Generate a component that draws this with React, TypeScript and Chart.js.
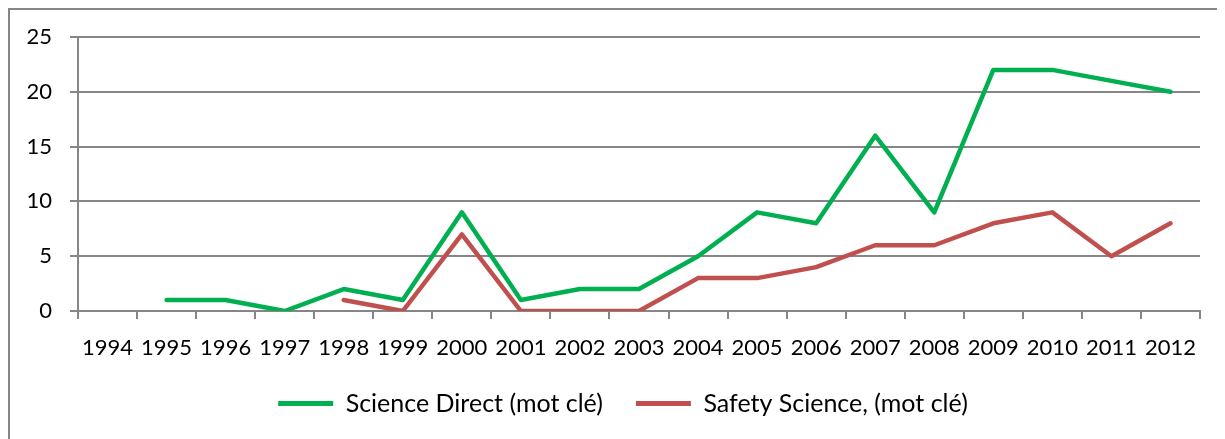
import React, { useEffect, useRef } from "react";
import { Chart, registerables } from "chart.js";

Chart.register(...registerables);

const years = ["1994","1995","1996","1997","1998","1999","2000","2001","2002","2003","2004","2005","2006","2007","2008","2009","2010","2011","2012"];
const scienceDirect = [null, 1, 1, 0, 2, 1, 9, 1, 2, 2, 5, 9, 8, 16, 9, 22, 22, 21, 20];
const safetyScience = [null, null, null, null, 1, 0, 7, 0, 0, 0, 3, 3, 4, 6, 6, 8, 9, 5, 8];
const seriesNames = ["Science Direct (mot clé)", "Safety Science, (mot clé)"];
const seriesColors = ["#00b050", "#c0504d"];
const yTicks = [0, 5, 10, 15, 20, 25];

const FONT = "Lato, 'Open Sans', sans-serif";
const TICK_FS = 22;
const LEGEND_FS = 25;
const GRID = "#868686";

const legendShift = {
  id: "legendShift",
  beforeDraw(chart: any) {
    if (chart.legend) chart.legend.left = 36;
  },
};

export default function App() {
  const ref = useRef<HTMLCanvasElement | null>(null);
  useEffect(() => {
    if (!ref.current) return;
    const chart = new Chart(ref.current, {
      type: "line",
      plugins: [legendShift],
      data: {
        labels: years,
        datasets: [
          {
            label: seriesNames[0],
            data: scienceDirect,
            borderColor: seriesColors[0],
            backgroundColor: seriesColors[0],
            borderWidth: 4.5,
            pointRadius: 0,
            tension: 0,
            borderCapStyle: "round",
            borderJoinStyle: "round",
          },
          {
            label: seriesNames[1],
            data: safetyScience,
            borderColor: seriesColors[1],
            backgroundColor: seriesColors[1],
            borderWidth: 4.5,
            pointRadius: 0,
            tension: 0,
            borderCapStyle: "round",
            borderJoinStyle: "round",
          },
        ],
      },
      options: {
        animation: false,
        responsive: false,
        maintainAspectRatio: false,
        layout: { padding: { top: 27, right: 25, left: 0, bottom: 13 } },
        plugins: {
          tooltip: { enabled: false },
          legend: {
            position: "bottom",
            labels: {
              font: { family: FONT, size: LEGEND_FS },
              color: "#000",
              boxWidth: 55,
              boxHeight: 5,
              padding: 33,
              generateLabels: (c: any) =>
                c.data.datasets.map((d: any, i: number) => ({
                  text: d.label,
                  fillStyle: seriesColors[i],
                  strokeStyle: seriesColors[i],
                  lineWidth: 0,
                  hidden: false,
                  datasetIndex: i,
                  fontColor: "#000",
                })),
            },
          },
        },
        scales: {
          x: {
            offset: true,
            grid: {
              display: true,
              offset: true,
              drawOnChartArea: false,
              drawTicks: true,
              tickLength: 8,
              color: GRID,
              lineWidth: 2,
            },
            border: { display: true, color: GRID, width: 2 },
            ticks: {
              font: { family: FONT, size: TICK_FS },
              color: "#000",
              padding: 16,
              autoSkip: false,
              maxRotation: 0,
            },
            afterFit: (s: any) => {
              s.height = 47;
              s.paddingLeft = 0;
              s.paddingRight = 0;
            },
          },
          y: {
            min: 0,
            max: 25,
            afterBuildTicks: (s: any) => {
              s.ticks = yTicks.map((v) => ({ value: v }));
            },
            grid: {
              color: GRID,
              lineWidth: 2,
              tickLength: 8,
              drawTicks: true,
            },
            border: { display: true, color: GRID, width: 2 },
            ticks: {
              font: { family: FONT, size: TICK_FS },
              color: "#000",
              padding: 18,
            },
            afterFit: (s: any) => {
              s.width = 68;
              s.paddingTop = 0;
              s.paddingBottom = 0;
            },
          },
        },
      },
    });
    return () => chart.destroy();
  }, []);
  return (
    <div
      style={{
        width: 1215,
        height: 429,
        borderLeft: "2px solid #868686",
        borderTop: "2px solid #868686",
        overflow: "hidden",
      }}
    >
      <canvas ref={ref} width={1215} height={429} style={{ display: "block" }} />
    </div>
  );
}
